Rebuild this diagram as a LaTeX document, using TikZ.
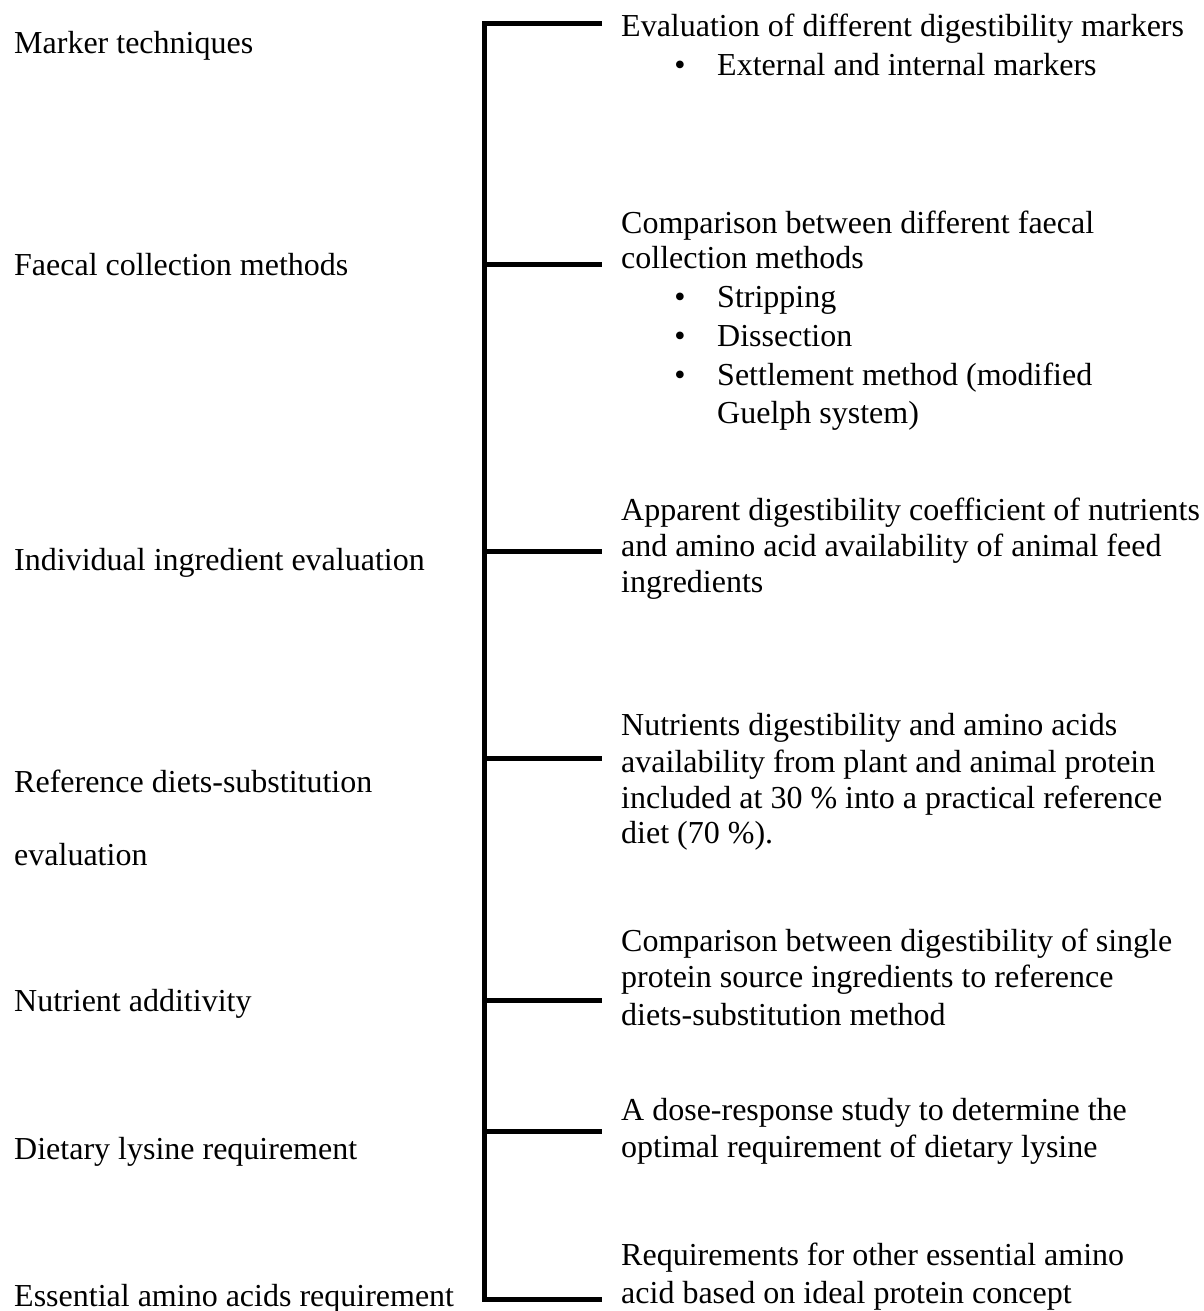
\documentclass[tikz,border=0pt]{standalone}
\usepackage{fontspec}
\setmainfont{Liberation Serif}
\begin{document}
\begin{tikzpicture}[x=1pt,y=-1pt,
  txt/.style={anchor=base west,inner sep=0pt,font=\fontsize{32}{39}\selectfont},
  bul/.style={anchor=base,inner sep=0pt,font=\fontsize{32}{39}\selectfont},
  bracket/.style={line width=5pt,black}]
\useasboundingbox (0,0) rectangle (1203,1311);
% left labels
\node[txt] (l1) at (14,54) {Marker techniques};
\node[txt] (l2) at (14,275) {Faecal collection methods};
\node[txt] (l3) at (14,570) {Individual ingredient evaluation};
\node[txt] (l4a) at (14,792) {Reference diets-substitution};
\node[txt] (l4b) at (14,865) {evaluation};
\node[txt] (l5) at (14,1011) {Nutrient additivity};
\node[txt] (l6) at (14,1159) {Dietary lysine requirement};
\node[txt] (l7) at (14,1306) {Essential amino acids requirement};
% bracket
\coordinate (v1) at (484,24);   \coordinate (t1) at (602,24);
\coordinate (v2) at (484,264);  \coordinate (t2) at (602,264);
\coordinate (v3) at (484,551);  \coordinate (t3) at (602,551);
\coordinate (v4) at (484,758);  \coordinate (t4) at (602,758);
\coordinate (v5) at (484,1000); \coordinate (t5) at (602,1000);
\coordinate (v6) at (484,1131); \coordinate (t6) at (602,1131);
\coordinate (v7) at (484,1299); \coordinate (t7) at (602,1299);
\draw[bracket] (t1) -- (v1) -- (v7) -- (t7);
\foreach \i in {2,...,6} \draw[bracket] (v\i) -- (t\i);
% right texts
\node[txt] (r1a) at (621,37) {Evaluation of different digestibility markers};
\node[bul] (b1a) at (680,76) {•};
\node[txt] (r1b) at (717,76) {External and internal markers};
\node[txt] (r2a) at (621,233) {Comparison between different faecal};
\node[txt] (r2b) at (621,268) {collection methods};
\node[bul] (b2a) at (680,307) {•};
\node[txt] (r2c) at (717,307) {Stripping};
\node[bul] (b2b) at (680,346) {•};
\node[txt] (r2d) at (717,346) {Dissection};
\node[bul] (b2c) at (680,385) {•};
\node[txt] (r2e) at (717,385) {Settlement method (modified};
\node[txt] (r2f) at (717,423) {Guelph system)};
\node[txt] (r3a) at (621,520) {Apparent digestibility coefficient of nutrients};
\node[txt] (r3b) at (621,556) {and amino acid availability of animal feed};
\node[txt] (r3c) at (621,592) {ingredients};
\node[txt] (r4a) at (621,735) {Nutrients digestibility and amino acids};
\node[txt] (r4b) at (621,772) {availability from plant and animal protein};
\node[txt] (r4c) at (621,808) {included at 30 \% into a practical reference};
\node[txt] (r4d) at (621,843) {diet (70 \%).};
\node[txt] (r5a) at (621,951) {Comparison between digestibility of single};
\node[txt] (r5b) at (621,987) {protein source ingredients to reference};
\node[txt] (r5c) at (621,1025) {diets-substitution method};
\node[txt] (r6a) at (621,1120) {A dose-response study to determine the};
\node[txt] (r6b) at (621,1157) {optimal requirement of dietary lysine};
\node[txt] (r7a) at (621,1265) {Requirements for other essential amino};
\node[txt] (r7b) at (621,1303) {acid based on ideal protein concept};
\end{tikzpicture}
\end{document}
